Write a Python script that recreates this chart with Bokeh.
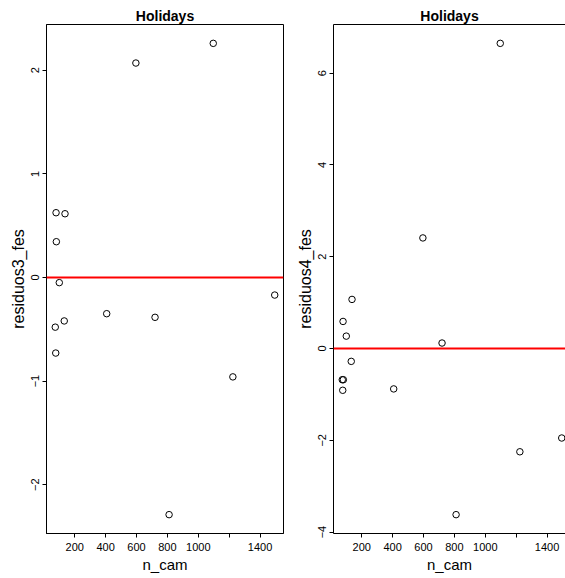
import math
from bokeh.plotting import figure
from bokeh.layouts import row
from bokeh.models import Range1d, FixedTicker, Span, LinearAxis, ColumnDataSource
from bokeh.embed import file_html
from bokeh.resources import INLINE

# ---- data ----
n_cam = [74, 77, 79, 81, 100, 132, 137, 407, 596, 720, 811, 1097, 1224, 1495]
residuos3_fes = [-0.48, -0.73, 0.625, 0.345, -0.05, -0.42, 0.615, -0.35, 2.07, -0.385, -2.29, 2.26, -0.96, -0.17]
residuos4_fes = [-0.68, -0.91, 0.59, -0.68, 0.27, -0.28, 1.07, -0.88, 2.41, 0.12, -3.62, 6.65, -2.25, -1.95]
x_ticks = [200, 400, 600, 800, 1000, 1200, 1400]
x_tick_labels = ["200", "400", "600", "800", "1000", "", "1400"]
y3_ticks = [-2, -1, 0, 1, 2]
y4_ticks = [-4, -2, 0, 2, 4, 6]
title_text = "Holidays"
x_label = "n_cam"

FONT = "Liberation Sans"
H = 578
LEFT_W, RIGHT_W = 287, 278
BL, BT, BB = 46, 24, 45


def r_range(vals):
    lo, hi = min(vals), max(vals)
    pad = 0.04 * (hi - lo)
    return lo - pad, hi + pad


def style_axis(ax, ticks, overrides=None):
    ax.ticker = FixedTicker(ticks=ticks)
    if overrides:
        ax.major_label_overrides = overrides
    ax.major_tick_in = 0
    ax.major_tick_out = 4
    ax.minor_tick_in = 0
    ax.minor_tick_out = 0
    ax.axis_line_color = "black"
    ax.major_tick_line_color = "black"
    ax.major_label_text_font = FONT
    ax.major_label_text_font_size = "11px"
    ax.major_label_text_color = "black"
    ax.axis_label_text_font = FONT
    ax.axis_label_text_font_style = "normal"
    ax.axis_label_text_color = "black"


def make_panel(yvals, ylabel, yticks, width, border_right, frame_w_full, frame_w, outline):
    x0, x1 = r_range(n_cam)
    x1 = x0 + (x1 - x0) * frame_w / frame_w_full
    y0, y1 = r_range(yvals)
    p = figure(width=width, height=H, output_backend="svg", toolbar_location=None,
               x_range=Range1d(x0, x1), y_range=Range1d(y0, y1),
               min_border_left=BL, min_border_right=border_right,
               min_border_top=BT, min_border_bottom=BB,
               x_axis_location=None, y_axis_location=None)
    p.title.text = title_text
    p.title.align = "center"
    p.title.text_font = FONT
    p.title.text_font_size = "14px"
    p.title.text_font_style = "bold"
    p.title.text_color = "black"
    p.title.standoff = 2
    p.xgrid.visible = False
    p.ygrid.visible = False
    p.background_fill_color = "white"
    p.border_fill_color = "white"
    if outline:
        p.outline_line_color = "black"
        p.outline_line_width = 1
    else:
        p.outline_line_color = None

    xa = LinearAxis(axis_label=x_label)
    style_axis(xa, x_ticks, {t: l for t, l in zip(x_ticks, x_tick_labels)})
    xa.major_label_standoff = 5
    xa.axis_label_standoff = 2
    xa.axis_label_text_font_size = "15px"
    p.add_layout(xa, "below")

    ya = LinearAxis(axis_label=ylabel)
    style_axis(ya, yticks)
    ya.major_label_orientation = "vertical"
    ya.major_label_standoff = 3
    ya.axis_label_standoff = 2
    ya.axis_label_text_font_size = "16px"
    p.add_layout(ya, "left")

    if not outline:
        top = LinearAxis(ticker=FixedTicker(ticks=[]), major_tick_out=0, major_tick_in=0,
                         minor_tick_out=0, minor_tick_in=0, axis_line_color="black",
                         major_label_text_font_size="0px")
        p.add_layout(top, "above")

    src = ColumnDataSource(dict(x=n_cam, y=yvals))
    p.add_layout(Span(location=0, dimension="width", line_color="red", line_width=2))
    p.scatter("x", "y", source=src, marker="circle", size=6.5,
              fill_color=None, line_color="black", line_width=1)
    return p


full_frame = LEFT_W - BL - 4
p1 = make_panel(residuos3_fes, "residuos3_fes", y3_ticks, LEFT_W, 4, full_frame, full_frame, True)
p2 = make_panel(residuos4_fes, "residuos4_fes", y4_ticks, RIGHT_W, 0, full_frame, RIGHT_W - BL, False)

layout = row(p1, p2, spacing=0)
open("out.html", "w").write(file_html(layout, INLINE))
